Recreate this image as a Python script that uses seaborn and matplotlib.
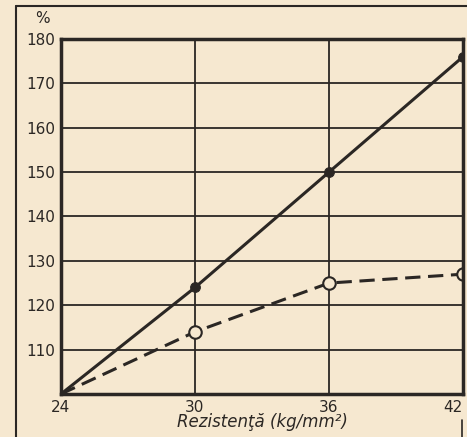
import pandas as pd
import matplotlib.pyplot as plt
import seaborn as sns

# valori
rezistenta = [24, 30, 36, 42]
serie_plina = [100, 124, 150, 176]
serie_punctata = [100, 114, 125, 127]
y_ticks = [110, 120, 130, 140, 150, 160, 170, 180]

df = pd.DataFrame({'rezistenta': rezistenta, 'plina': serie_plina, 'punctata': serie_punctata})

fundal = '#f6e8d0'
cerneala = '#2b2724'

sns.set_style('white')
plt.rcParams['font.family'] = ['DejaVu Sans']

fig = plt.figure(figsize=(4.67, 4.37), dpi=100, facecolor=fundal)
ax = fig.add_axes([0.1306, 0.0984, 0.8608, 0.8124])
ax.set_facecolor(fundal)

sns.lineplot(data=df, x='rezistenta', y='plina', ax=ax, color=cerneala, lw=2.2,
             marker='o', markersize=7, markerfacecolor=cerneala, markeredgecolor=cerneala)
sns.lineplot(data=df, x='rezistenta', y='punctata', ax=ax, color=cerneala, lw=2.2,
             linestyle=(0, (5, 2.5)), marker='o', markersize=9,
             markerfacecolor=fundal, markeredgecolor=cerneala, markeredgewidth=1.5)
# punctul de origine nu are marker
ax.lines[0].set_markevery([1, 2, 3])
ax.lines[1].set_markevery([1, 2, 3])

ax.set_xlim(24, 42)
ax.set_ylim(100, 180)
ax.set_xticks(rezistenta)
ax.set_yticks([100] + y_ticks)
ax.set_yticklabels([''] + [str(v) for v in y_ticks])
ax.grid(True, color=cerneala, lw=1.3)
ax.tick_params(length=0, labelsize=11, labelcolor=cerneala, pad=4)
# ultima eticheta aliniata la dreapta ca sa nu fie taiata
ax.get_xticklabels()[-1].set_horizontalalignment('right')
for s in ax.spines.values():
    s.set_color(cerneala)
    s.set_linewidth(2.5)
    s.set_visible(True)

ax.set_xlabel('Rezistenţă (kg/mm²)', fontsize=12, style='italic', color=cerneala, labelpad=-1)
ax.set_ylabel('')
fig.text(0.09, 0.948, '%', fontsize=11, color=cerneala, ha='center')

# chenarul exterior
fig.add_artist(plt.Line2D([0.034, 0.034], [0, 0.986], color=cerneala, lw=1.5))
fig.add_artist(plt.Line2D([0.034, 1], [0.986, 0.986], color=cerneala, lw=1.5))
fig.add_artist(plt.Line2D([0.99, 0.99], [0, 0.04], color=cerneala, lw=1.2))

fig.savefig('out.png', dpi=100, facecolor=fundal)
